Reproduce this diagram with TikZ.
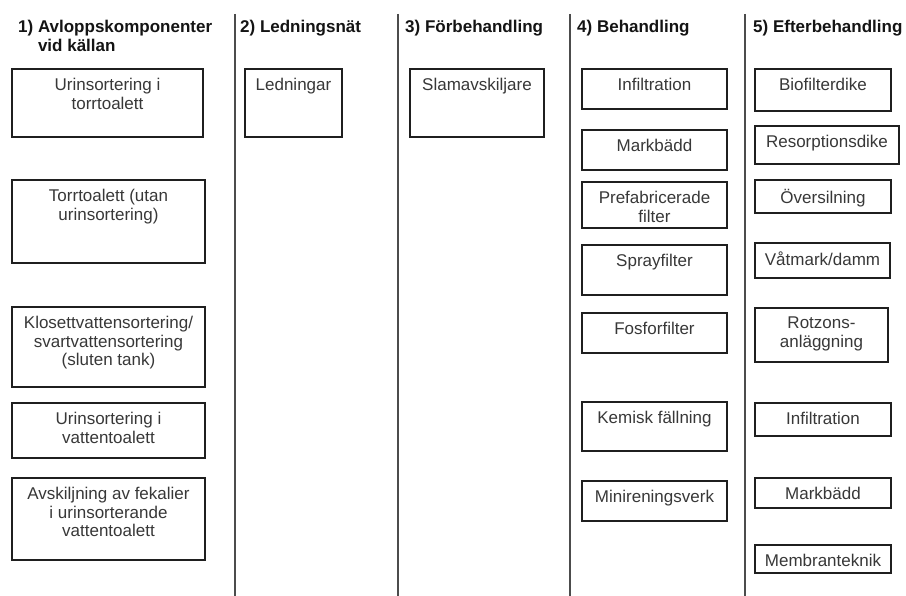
\documentclass[tikz,border=0pt]{standalone}
\usepackage{fontspec}
\setmainfont{Liberation Sans}
\newcommand{\mkbox}[6]{%
  \node[cbox, minimum width={(#4-#2)*1pt}, minimum height={(#5-#3)*1pt}] (#1) at (#2,#3) {};
  \node[ctext] (#1t) at ([yshift=-9pt]#1.north) {#6};}
\begin{document}
\begin{tikzpicture}[x=1pt,y=-1pt,
  cbox/.style={draw=black!88, line width=1.4pt, rectangle, inner sep=0pt, outer sep=0pt, anchor=north west},
  ctext/.style={font=\fontsize{17}{18.5}\selectfont, text=black!78, align=center, inner sep=0pt, anchor=north},
  head/.style={font=\fontsize{17}{19}\selectfont\bfseries, text=black!92, align=left, inner sep=0pt, anchor=north west},
  sep/.style={draw=black!70, line width=1.5pt}]
\useasboundingbox (0,0) rectangle (906,596);
\fill[white] (0,0) rectangle (906,596);

% separators
\coordinate (s1a) at (235,14); \coordinate (s1b) at (235,596);
\coordinate (s2a) at (398,14); \coordinate (s2b) at (398,596);
\coordinate (s3a) at (570,14); \coordinate (s3b) at (570,596);
\coordinate (s4a) at (745,14); \coordinate (s4b) at (745,596);
\draw[sep] (s1a) -- (s1b);
\draw[sep] (s2a) -- (s2b);
\draw[sep] (s3a) -- (s3b);
\draw[sep] (s4a) -- (s4b);

% headings
\node[head] (h1) at (18,20) {1) Avloppskomponenter\\\phantom{1) }vid källan};
\node[head] (h2) at (240,20) {2) Ledningsnät};
\node[head] (h3) at (405,20) {3) Förbehandling};
\node[head] (h4) at (577,20) {4) Behandling};
\node[head] (h5) at (753,20) {5) Efterbehandling};

% column 1
\mkbox{a1}{12}{69}{203}{137}{Urinsortering i\\torrtoalett}
\mkbox{a2}{12}{180}{205}{263}{Torrtoalett (utan\\urinsortering)}
\mkbox{a3}{12}{307}{205}{387}{Klosettvattensortering/\\svartvattensortering\\(sluten tank)}
\mkbox{a4}{12}{403}{205}{458}{Urinsortering i\\vattentoalett}
\mkbox{a5}{12}{478}{205}{560}{Avskiljning av fekalier\\i urinsorterande\\vattentoalett}

% column 2
\mkbox{b1}{245}{69}{342}{137}{Ledningar}

% column 3
\mkbox{c1}{410}{69}{544}{137}{Slamavskiljare}

% column 4
\mkbox{d1}{582}{69}{727}{109}{Infiltration}
\mkbox{d2}{582}{130}{727}{170}{Markbädd}
\mkbox{d3}{582}{182}{727}{228}{Prefabricerade\\filter}
\mkbox{d4}{582}{245}{727}{295}{Sprayfilter}
\mkbox{d5}{582}{313}{727}{353}{Fosforfilter}
\mkbox{d6}{582}{402}{727}{451}{Kemisk fällning}
\mkbox{d7}{582}{481}{727}{521}{Minireningsverk}

% column 5
\mkbox{e1}{755}{69}{891}{111}{Biofilterdike}
\mkbox{e2}{755}{126}{899}{164}{Resorptionsdike}
\mkbox{e3}{755}{180}{891}{213}{Översilning}
\mkbox{e4}{755}{243}{890}{278}{Våtmark/damm}
\mkbox{e5}{755}{308}{888}{362}{Rotzons-\\anläggning}
\mkbox{e6}{755}{403}{891}{436}{Infiltration}
\mkbox{e7}{755}{478}{891}{508}{Markbädd}
\mkbox{e8}{755}{545}{891}{573}{Membranteknik}
\end{tikzpicture}
\end{document}
